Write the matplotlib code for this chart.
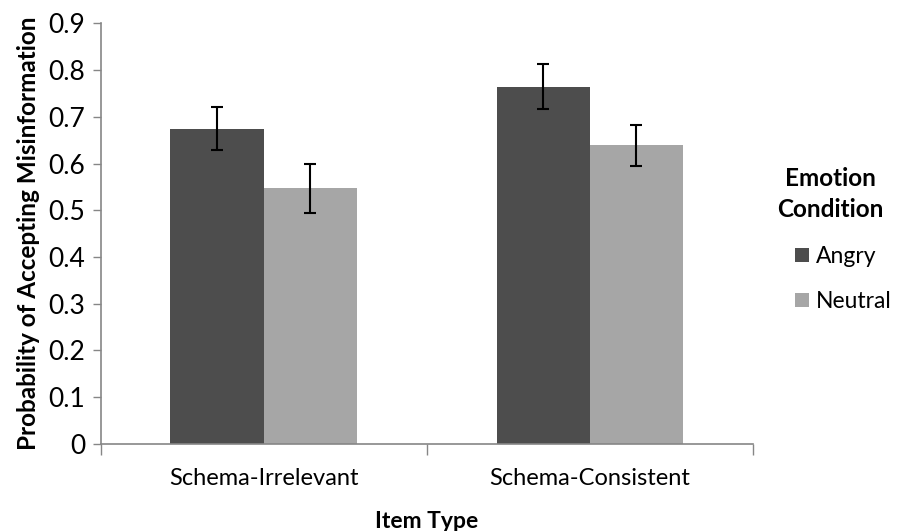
import matplotlib
matplotlib.use("Agg")
import matplotlib.pyplot as plt
import numpy as np

plt.rcParams['font.family'] = ['Lato', 'DejaVu Sans']

categories = ["Schema-Irrelevant", "Schema-Consistent"]
angry = [0.675, 0.764]
angry_err = [0.046, 0.048]
neutral = [0.547, 0.639]
neutral_err = [0.052, 0.044]

DARK = "#4d4d4d"
LIGHT = "#a6a6a6"
AXIS = "#868686"

fig = plt.figure(figsize=(8.99, 5.31), dpi=100)
ax = fig.add_axes([0.112, 0.164, 0.7255, 0.792])

x = np.arange(len(categories))
w = 0.286
ekw = dict(ecolor="black", elinewidth=1.5, capthick=1.5, capsize=4.5)
ax.bar(x - w / 2, angry, w, yerr=angry_err, color=DARK, label="Angry", error_kw=ekw)
ax.bar(x + w / 2, neutral, w, yerr=neutral_err, color=LIGHT, label="Neutral", error_kw=ekw)

ax.set_xlim(-0.5, 1.5)
ax.set_ylim(0, 0.9)
ax.set_yticks(np.arange(0, 0.91, 0.1))
ax.set_yticklabels(["0"] + [f"{v:.1f}" for v in np.arange(0.1, 0.91, 0.1)])

# x ticks at category boundaries, labels centered
ax.set_xticks([-0.5, 0.5, 1.5])
ax.set_xticklabels([])
ax.set_xticks(x, minor=True)
ax.set_xticklabels(categories, minor=True)
ax.tick_params(axis="x", which="major", length=8, width=1, color=AXIS, direction="out")
ax.tick_params(axis="x", which="minor", length=0, pad=17, labelsize=17)
ax.tick_params(axis="y", length=6, width=1, color=AXIS, labelsize=19, pad=5)

for s in ["top", "right"]:
    ax.spines[s].set_visible(False)
for s in ["left", "bottom"]:
    ax.spines[s].set_color(AXIS)
    ax.spines[s].set_linewidth(1.2)

ax.set_ylabel("Probability of Accepting Misinformation", fontsize=17.5, fontweight="bold", labelpad=6)
ax.set_xlabel("Item Type", fontsize=16.5, fontweight="bold", labelpad=16)

fig.text(830 / 899, 1 - 194 / 531, "Emotion\nCondition", ha="center", va="center",
         fontsize=17.5, fontweight="bold", linespacing=1.45)
leg = ax.legend(loc="center left", bbox_to_anchor=(795 / 899, 1 - 279 / 531),
                bbox_transform=fig.transFigure, frameon=False, fontsize=16.5,
                handlelength=0.6, handleheight=0.6, handletextpad=0.3,
                labelspacing=1.05, borderpad=0, borderaxespad=0)

fig.savefig("out.png", dpi=100)
